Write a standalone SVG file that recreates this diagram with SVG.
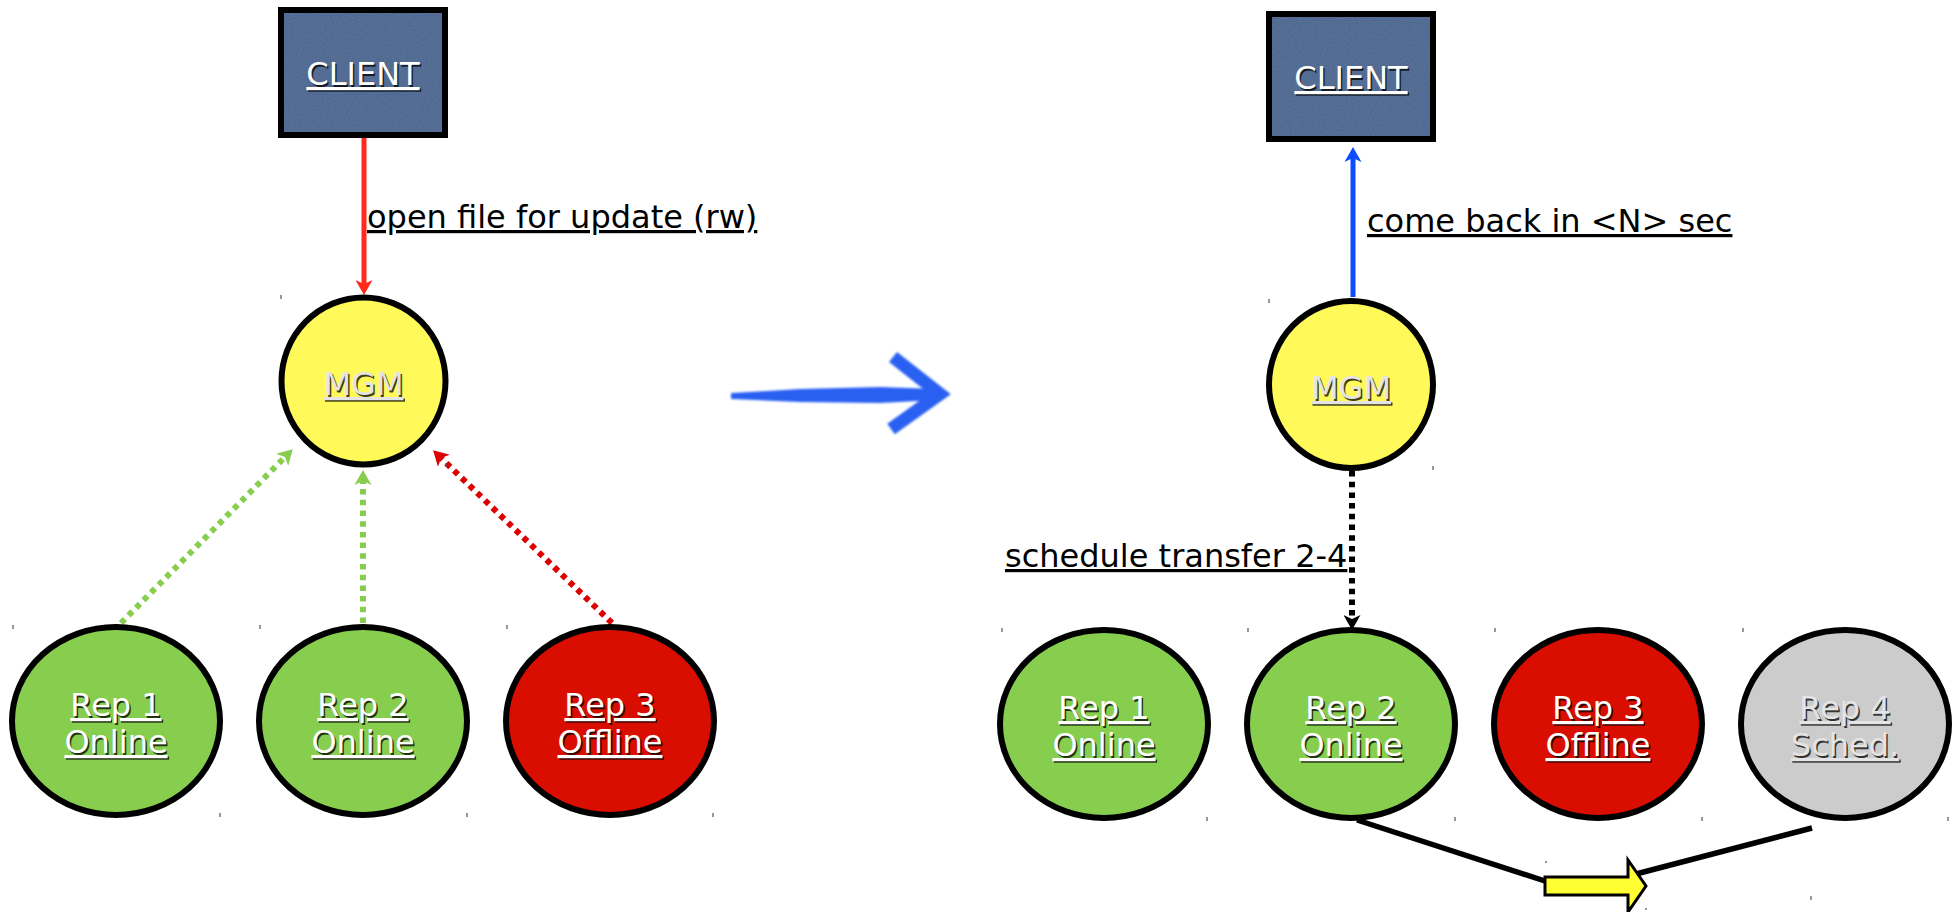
<svg xmlns="http://www.w3.org/2000/svg" width="1956" height="912" viewBox="0 0 1956 912">
  <style>
    .lbl { font-family: "DejaVu Sans", "Liberation Sans", sans-serif; font-size: 32px; text-decoration: underline; }
    .note { fill: #000000; }
    .light { fill: #ffffff; text-anchor: middle; }
    .grey { fill: #e4e4e4; text-anchor: middle; }
    .shadow { fill: #000000; fill-opacity: 0.75; text-anchor: middle; }
    .outline { stroke: #000000; stroke-width: 6; }
    .client { fill: #47638f; }
    .mgm { fill: #fff95a; }
    .online { fill: #87ce4f; }
    .offline { fill: #d90d00; }
    .sched { fill: #cccccc; }
    .tick { stroke: #555555; stroke-width: 1.2; }
    .dotted { fill: none; stroke-width: 6; stroke-dasharray: 5.5 5.2; }
  </style>
  <defs>
    <filter id="grain" x="0" y="0" width="1" height="1">
      <feTurbulence type="fractalNoise" baseFrequency="0.75" numOctaves="3" seed="7"/>
      <feColorMatrix type="saturate" values="0"/>
      <feComposite operator="in" in2="SourceGraphic"/>
    </filter>
    <filter id="soft" x="-10%" y="-20%" width="120%" height="140%">
      <feGaussianBlur stdDeviation="0.9"/>
    </filter>
    <marker id="headRed" viewBox="0 0 15 17" refX="4" refY="8.5" markerWidth="15" markerHeight="17" markerUnits="userSpaceOnUse" orient="auto">
      <path d="M0,0 L15,8.5 L0,17 L4,8.5 z" fill="#ff2a1a"/>
    </marker>
    <marker id="headBlue" viewBox="0 0 15 17" refX="4" refY="8.5" markerWidth="15" markerHeight="17" markerUnits="userSpaceOnUse" orient="auto">
      <path d="M0,0 L15,8.5 L0,17 L4,8.5 z" fill="#0a4cff"/>
    </marker>
    <marker id="headGreen" viewBox="0 0 15 17" refX="4" refY="8.5" markerWidth="15" markerHeight="17" markerUnits="userSpaceOnUse" orient="auto">
      <path d="M0,0 L15,8.5 L0,17 L4,8.5 z" fill="#87ce4f"/>
    </marker>
    <marker id="headDarkRed" viewBox="0 0 15 17" refX="4" refY="8.5" markerWidth="15" markerHeight="17" markerUnits="userSpaceOnUse" orient="auto">
      <path d="M0,0 L15,8.5 L0,17 L4,8.5 z" fill="#dc0000"/>
    </marker>
    <marker id="headBlack" viewBox="0 0 15 17" refX="4" refY="8.5" markerWidth="15" markerHeight="17" markerUnits="userSpaceOnUse" orient="auto">
      <path d="M0,0 L15,8.5 L0,17 L4,8.5 z" fill="#000000"/>
    </marker>
  </defs>

  <rect width="1956" height="912" fill="#ffffff"/>

  <!-- connectors -->
  <g id="connectors">
    <!-- left: open request -->
    <line x1="364" y1="137" x2="364" y2="284" stroke="#ff2a1a" stroke-width="5" marker-end="url(#headRed)"/>
    <!-- replicas reporting to MGM -->
    <line x1="121" y1="623" x2="285" y2="457" class="dotted" stroke="#87ce4f" marker-end="url(#headGreen)"/>
    <line x1="363" y1="623" x2="363" y2="481" class="dotted" stroke="#87ce4f" marker-end="url(#headGreen)"/>
    <line x1="612" y1="623" x2="441" y2="458" class="dotted" stroke="#dc0000" marker-end="url(#headDarkRed)"/>
    <!-- right: redirect back to client -->
    <line x1="1353" y1="297" x2="1353" y2="158" stroke="#0a4cff" stroke-width="5" marker-end="url(#headBlue)"/>
    <!-- scheduled transfer -->
    <line x1="1352" y1="471" x2="1352" y2="619" class="dotted" stroke="#000000" marker-end="url(#headBlack)"/>
    <!-- transfer from Rep 2 to Rep 4 -->
    <line x1="1357" y1="820" x2="1548" y2="882" stroke="#000000" stroke-width="5.5"/>
    <line x1="1812" y1="828" x2="1636" y2="874" stroke="#000000" stroke-width="5.5"/>
    <polygon points="1545,877 1628,877 1628,860 1646,886 1628,912 1628,895 1545,895" fill="#ffff33" stroke="#000000" stroke-width="3"/>
    <!-- big transition arrow -->
    <g filter="url(#soft)" fill="#2a60f2" stroke="#2a60f2">
      <polygon points="731,393 800,389 880,387 936,389 936,400 880,403 800,402 731,399" stroke="none"/>
      <polyline points="893,357 940,394 891,429" fill="none" stroke-width="13" stroke-linejoin="miter"/>
    </g>
  </g>

  <!-- edge labels -->
  <g id="labels" class="lbl">
    <text x="367" y="228" class="note">open file for update (rw)</text>
    <text x="1367" y="232" class="note">come back in &lt;N&gt; sec</text>
    <text x="1005" y="567" class="note">schedule transfer 2-4</text>
  </g>

  <!-- left scene -->
  <g id="client-left">
    <rect x="281" y="10" width="164" height="125" class="client outline"/>
    <rect x="284" y="13" width="158" height="119" fill="#ffffff" opacity="0.22" filter="url(#grain)"/>
    <text x="364.5" y="86.5" class="lbl shadow">CLIENT</text>
    <text x="363" y="85" class="lbl light">CLIENT</text>
  </g>
  <g id="mgm-left">
    <ellipse cx="363.5" cy="381" rx="82" ry="83.5" class="mgm outline"/>
    <text x="365" y="396.5" class="lbl shadow">MGM</text>
    <text x="363.5" y="395" class="lbl grey">MGM</text>
  </g>
  <g id="rep1-left">
    <ellipse cx="116" cy="721" rx="104" ry="94" class="online outline"/>
    <text class="lbl shadow"><tspan x="117.5" y="717.5">Rep 1</tspan><tspan x="117.5" y="754.5">Online</tspan></text>
    <text class="lbl light"><tspan x="116" y="716">Rep 1</tspan><tspan x="116" y="753">Online</tspan></text>
  </g>
  <g id="rep2-left">
    <ellipse cx="363" cy="721" rx="104" ry="94" class="online outline"/>
    <text class="lbl shadow"><tspan x="364.5" y="717.5">Rep 2</tspan><tspan x="364.5" y="754.5">Online</tspan></text>
    <text class="lbl light"><tspan x="363" y="716">Rep 2</tspan><tspan x="363" y="753">Online</tspan></text>
  </g>
  <g id="rep3-left">
    <ellipse cx="610" cy="721" rx="104" ry="94" class="offline outline"/>
    <text class="lbl shadow"><tspan x="611.5" y="717.5">Rep 3</tspan><tspan x="611.5" y="754.5">Offline</tspan></text>
    <text class="lbl light"><tspan x="610" y="716">Rep 3</tspan><tspan x="610" y="753">Offline</tspan></text>
  </g>

  <!-- right scene -->
  <g id="client-right">
    <rect x="1269" y="14" width="164" height="125" class="client outline"/>
    <rect x="1272" y="17" width="158" height="119" fill="#ffffff" opacity="0.22" filter="url(#grain)"/>
    <text x="1352.5" y="90.5" class="lbl shadow">CLIENT</text>
    <text x="1351" y="89" class="lbl light">CLIENT</text>
  </g>
  <g id="mgm-right">
    <ellipse cx="1351" cy="384.5" rx="82" ry="83.5" class="mgm outline"/>
    <text x="1352.5" y="400.5" class="lbl shadow">MGM</text>
    <text x="1351" y="399" class="lbl grey">MGM</text>
  </g>
  <g id="rep1-right">
    <ellipse cx="1104" cy="724" rx="104" ry="94" class="online outline"/>
    <text class="lbl shadow"><tspan x="1105.5" y="720.5">Rep 1</tspan><tspan x="1105.5" y="757.5">Online</tspan></text>
    <text class="lbl light"><tspan x="1104" y="719">Rep 1</tspan><tspan x="1104" y="756">Online</tspan></text>
  </g>
  <g id="rep2-right">
    <ellipse cx="1351" cy="724" rx="104" ry="94" class="online outline"/>
    <text class="lbl shadow"><tspan x="1352.5" y="720.5">Rep 2</tspan><tspan x="1352.5" y="757.5">Online</tspan></text>
    <text class="lbl light"><tspan x="1351" y="719">Rep 2</tspan><tspan x="1351" y="756">Online</tspan></text>
  </g>
  <g id="rep3-right">
    <ellipse cx="1598" cy="724" rx="104" ry="94" class="offline outline"/>
    <text class="lbl shadow"><tspan x="1599.5" y="720.5">Rep 3</tspan><tspan x="1599.5" y="757.5">Offline</tspan></text>
    <text class="lbl light"><tspan x="1598" y="719">Rep 3</tspan><tspan x="1598" y="756">Offline</tspan></text>
  </g>
  <g id="rep4-right">
    <ellipse cx="1845" cy="724" rx="104" ry="94" class="sched outline"/>
    <text class="lbl shadow"><tspan x="1846.5" y="720.5">Rep 4</tspan><tspan x="1846.5" y="757.5">Sched.</tspan></text>
    <text class="lbl grey"><tspan x="1845" y="719">Rep 4</tspan><tspan x="1845" y="756">Sched.</tspan></text>
  </g>

  <!-- frame corner ticks -->
  <g id="ticks" class="tick">
    <path d="M281,295v4 M446,463v4 M13,625v4 M220,813v4 M260,625v4 M467,813v4 M507,625v4 M713,813v4"/>
    <path d="M1269,299v4 M1433,466v4 M1002,628v4 M1207,817v4 M1248,628v4 M1455,817v4 M1495,628v4 M1702,817v4 M1743,628v4 M1948,817v4 M1546,861v2 M1811,896v4 M1646,908v2"/>
  </g>
</svg>
